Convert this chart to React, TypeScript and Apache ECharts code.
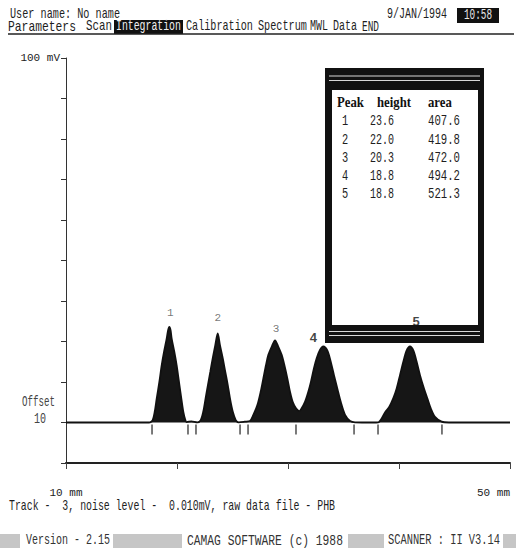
import React, { useEffect, useRef } from "react";
import * as echarts from "echarts";

// ---- data ----
const peakNumbers = [1, 2, 3, 4, 5];
const peakHeights = [23.6, 22.0, 20.3, 18.8, 18.8]; // mV
const peakAreas = [407.6, 419.8, 472.0, 494.2, 521.3];
const peakPositionsMm = [19.31, 23.67, 28.83, 33.18, 40.99];
const offsetMv = 10;
const integrationMarksMm = [17.75, 20.99, 21.71, 25.68, 26.4, 30.72, 35.95, 38.11, 43.87];
const xRangeMm = [10, 50];
const yRangeMv = [0, 100];
const menuItems = ["Parameters", "Scan", "Integration", "Calibration", "Spectrum", "MWL", "Data", "END"];

// densitometer trace, [mm, mV]
const baselineLeft = [[10, 10], [17.3, 10]];
const peak1Trace = [
  [17.57, 10.05], [17.81, 10.6], [17.99, 12.6], [18.17, 15.9], [18.41, 20.0], [18.62, 24.1],
  [18.83, 27.4], [19.07, 30.7], [19.2, 32.8], [19.31, 33.6], [19.42, 32.8], [19.52, 30.7],
  [19.76, 27.4], [19.97, 24.1], [20.18, 20.0], [20.39, 15.9], [20.57, 12.6], [20.75, 10.6],
  [20.87, 10.1], [21.3, 10.3],
];
const peak2Trace = [
  [21.83, 10.05], [22.14, 10.6], [22.37, 12.7], [22.58, 16.0], [22.79, 19.3], [23.0, 22.5],
  [23.22, 25.9], [23.45, 29.1], [23.67, 32.0], [23.87, 29.1], [24.12, 25.9], [24.35, 22.5],
  [24.57, 19.3], [24.77, 16.0], [25.02, 12.7], [25.29, 10.6], [25.56, 10.05], [26.1, 10.2],
];
const peak3Trace = [
  [26.58, 10.4], [26.88, 11.9], [27.24, 14.3], [27.54, 17.6], [27.78, 20.9], [28.02, 24.2],
  [28.23, 26.7], [28.53, 28.7], [28.83, 30.3], [29.13, 28.7], [29.43, 26.7], [29.67, 24.2],
  [29.94, 20.9], [30.18, 17.6], [30.42, 15.1], [30.72, 13.5], [31.02, 12.8],
];
const peak4Trace = [
  [31.23, 13.5], [31.53, 15.1], [31.83, 17.6], [32.07, 20.1], [32.34, 23.4], [32.59, 25.9],
  [32.88, 27.9], [33.18, 28.8], [33.54, 27.8], [33.85, 25.0], [34.14, 21.7], [34.44, 18.4],
  [34.75, 15.1], [35.14, 11.9], [35.59, 10.4], [36.04, 10.05], [37.6, 10],
];
const peak5Trace = [
  [38.14, 10.05], [38.35, 10.6], [38.74, 12.5], [39.13, 13.9], [39.49, 16.0], [39.79, 18.4],
  [40.09, 21.7], [40.39, 25.0], [40.69, 27.8], [40.99, 28.8], [41.29, 27.8], [41.59, 25.0],
  [41.89, 21.7], [42.25, 18.4], [42.55, 16.0], [42.86, 13.5], [43.24, 11.4], [43.84, 10.2],
];
const baselineRight = [[44.5, 10], [50, 10]];

// ---- layout / style ----
const MONO = "'Liberation Mono', 'DejaVu Sans Mono', monospace";
const FS = 14;
const CW = FS * 0.6;
const INK = "#1e1e1e";

function dosText(text: string, x: number, y: number, width?: number, fill = INK, align = "left", z = 5) {
  const sx = width ? width / (text.length * CW) : 0.73;
  return {
    type: "text",
    x,
    y,
    scaleX: sx,
    z,
    silent: true,
    style: {
      text,
      font: `${FS}px ${MONO}`,
      fill,
      textAlign: align,
      textVerticalAlign: "middle",
      align,
      verticalAlign: "middle",
    },
  };
}
function rect(x: number, y: number, w: number, h: number, fill: string, z = 1) {
  return { type: "rect", z, silent: true, shape: { x, y, width: w, height: h }, style: { fill } };
}
function hline(x1: number, x2: number, y: number, stroke: string, lw: number, z = 2) {
  return { type: "line", z, silent: true, shape: { x1, y1: y, x2, y2: y }, style: { stroke, lineWidth: lw } };
}

const menuX = [8, 86, 116, 186, 258, 310, 333, 362];
const menuW = [68, 26, 65, 67, 49, 18, 24, 17];
const labelOffsets = [[1, -14], [0, -15], [1, -11], [-10, -9], [6, -25]];

export default function App() {
  const ref = useRef<HTMLDivElement>(null);
  useEffect(() => {
    if (!ref.current) return;
    const chart = echarts.init(ref.current, undefined, { renderer: "svg" });
    const trace = [...baselineLeft, ...peak1Trace, ...peak2Trace, ...peak3Trace, ...peak4Trace, ...peak5Trace, ...baselineRight];

    const graphic: any[] = [];
    // header
    graphic.push(dosText("User name: No name", 10, 15, 110));
    graphic.push(dosText("9/JAN/1994", 387, 15, 60));
    graphic.push(rect(457, 8, 42, 15, "#111"));
    graphic.push(dosText("10:58", 478, 15.5, 28, "#e8e8e8", "center", 6));
    // menu
    graphic.push(rect(114, 20, 69, 14, "#111"));
    menuItems.forEach((m, i) => {
      graphic.push(dosText(m, menuX[i], 27, menuW[i], m === "Integration" ? "#f0f0f0" : INK, "left", 6));
    });
    graphic.push(hline(8, 514, 34, "#222", 1.5));
    // offset label
    graphic.push(dosText("Offset", 22, 402, 33, "#444"));
    graphic.push(dosText(String(offsetMv), 34, 420, 12, "#444"));
    // footer
    graphic.push(dosText("Track -  3, noise level -  0.010mV, raw data file - PHB", 9, 507, 326));
    [[0, 20], [113, 182], [348, 384], [503, 516]].forEach(([a, b]) => graphic.push(rect(a, 534, b - a, 14, "#c6c6c6")));
    graphic.push(dosText("Version - 2.15", 26, 541, 84, "#333"));
    graphic.push(dosText("CAMAG SOFTWARE (c) 1988", 187, 541, 156, "#333"));
    graphic.push(dosText("SCANNER : II V3.14", 388, 541, 112, "#333"));
    // results table window
    graphic.push(rect(325, 68, 159, 275, "#111"));
    graphic.push(rect(332, 90, 146, 235, "#ffffff", 2));
    graphic.push(hline(329, 480, 76, "#d8d8d8", 1, 3));
    graphic.push(hline(329, 480, 80.5, "#d8d8d8", 1, 3));
    graphic.push(hline(329, 480, 331.5, "#d8d8d8", 1, 3));
    graphic.push(hline(329, 480, 335.5, "#d8d8d8", 1, 3));
    const headers: [string, number][] = [["Peak", 337], ["height", 377], ["area", 428]];
    headers.forEach(([t, x]) =>
      graphic.push({
        type: "text", x, y: 102, z: 6, scaleX: 0.85, silent: true,
        style: { text: t, font: "bold 15px 'Liberation Serif', serif", fill: "#111", textVerticalAlign: "middle", verticalAlign: "middle" },
      })
    );
    peakNumbers.forEach((n, i) => {
      const y = 122 + i * 18.2;
      graphic.push(dosText(String(n), 345, y, 6.2, INK, "center", 6));
      graphic.push(dosText(peakHeights[i].toFixed(1), 370, y, 24, INK, "left", 6));
      graphic.push(dosText(peakAreas[i].toFixed(1), 428, y, 32, INK, "left", 6));
    });

    chart.setOption({
      animation: false,
      backgroundColor: "#ffffff",
      grid: { left: 66, right: 6, top: 58, bottom: 96, containLabel: false },
      xAxis: {
        type: "value",
        min: xRangeMm[0],
        max: xRangeMm[1],
        interval: 10,
        axisLine: { show: true, onZero: false, lineStyle: { color: "#222", width: 2 } },
        axisTick: { show: true, length: 6, lineStyle: { color: "#444", width: 1 } },
        axisLabel: {
          margin: 24,
          showMinLabel: true,
          showMaxLabel: true,
          alignMaxLabel: "right",
          formatter: (v: number) => (v === xRangeMm[0] || v === xRangeMm[1] ? `${v} mm` : ""),
          fontFamily: MONO,
          fontSize: 11,
          color: "#222",
        },
        splitLine: { show: false },
      },
      yAxis: {
        type: "value",
        min: yRangeMv[0],
        max: yRangeMv[1],
        interval: 10,
        axisLine: { show: true, onZero: false, lineStyle: { color: "#333", width: 1 } },
        axisTick: { show: true, length: 5, lineStyle: { color: "#333" } },
        axisLabel: {
          margin: 6,
          formatter: (v: number) => (v === yRangeMv[1] ? `${v} mV` : ""),
          fontFamily: MONO,
          fontSize: 11,
          color: "#222",
        },
        splitLine: { show: false },
      },
      series: [
        {
          type: "line",
          name: "trace",
          data: trace,
          showSymbol: false,
          symbol: "none",
          smooth: 0.3,
          lineStyle: { color: "#111", width: 1.8 },
          areaStyle: { color: "#161616", opacity: 1, origin: offsetMv },
          z: 3,
        },
        {
          type: "scatter",
          name: "integration marks",
          symbol: "rect",
          symbolSize: [1.5, 10],
          symbolOffset: [0, 7],
          itemStyle: { color: "#222" },
          data: integrationMarksMm.map((m) => [m, offsetMv]),
          z: 4,
        },
        {
          type: "scatter",
          name: "peak labels",
          symbolSize: 1,
          itemStyle: { color: "rgba(0,0,0,0)" },
          z: 10,
          data: peakNumbers.map((n, i) => ({
            value: [peakPositionsMm[i], offsetMv + peakHeights[i]],
            label: {
              show: true,
              position: "inside",
              offset: labelOffsets[i],
              formatter: String(n),
              fontFamily: n >= 4 ? "'Liberation Sans', Arial, sans-serif" : MONO,
              fontWeight: n >= 4 ? "bold" : "normal",
              fontSize: n >= 4 ? 13 : 11,
              color: n >= 4 ? "#111" : "#555",
            },
          })),
        },
      ],
      graphic,
    });
    return () => chart.dispose();
  }, []);
  return <div ref={ref} style={{ position: "absolute", left: 0, top: 0, width: 516, height: 559, background: "#fff" }} />;
}
